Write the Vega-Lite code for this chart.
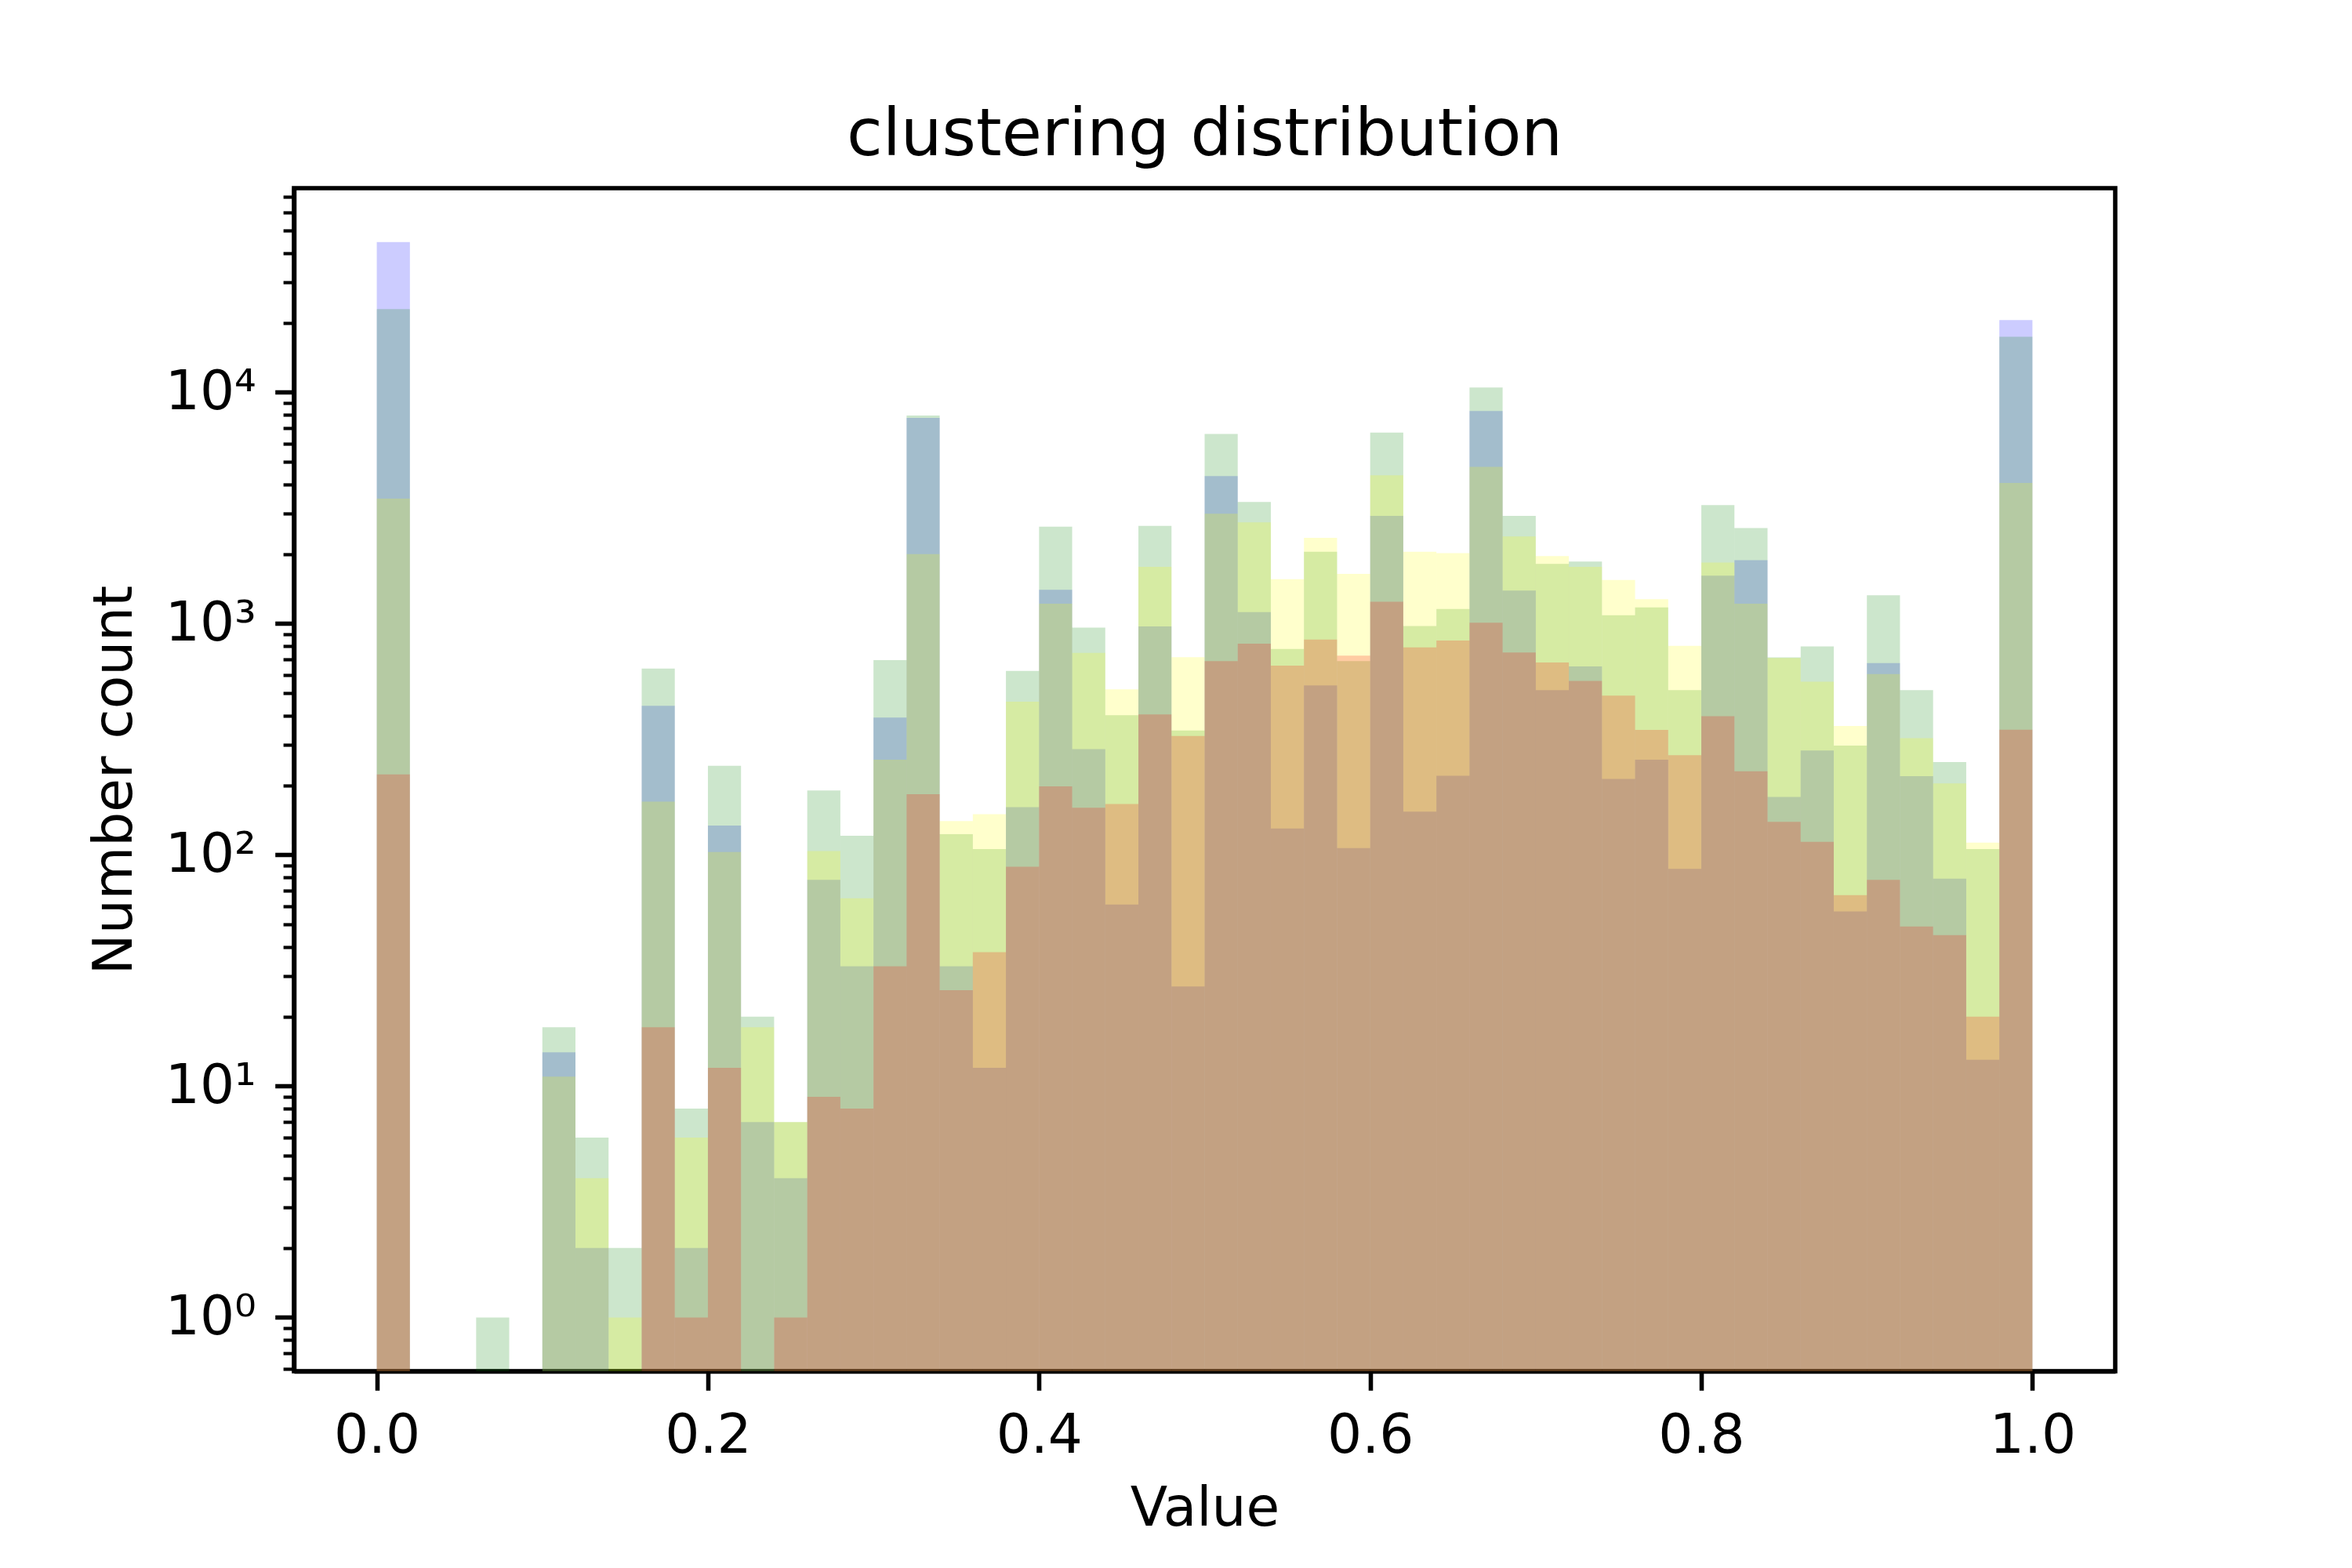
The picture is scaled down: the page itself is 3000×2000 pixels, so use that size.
{
  "$schema": "https://vega.github.io/schema/vega-lite/v6.json",
  "width": 2323,
  "height": 1509,
  "autosize": {"type": "none"},
  "padding": {"left": 375, "top": 240, "right": 302, "bottom": 251},
  "background": "white",
  "title": {
    "text": "clustering distribution",
    "font": "DejaVu Sans",
    "fontSize": 83.3,
    "fontWeight": "normal",
    "color": "black",
    "anchor": "middle",
    "frame": "group",
    "baseline": "alphabetic",
    "offset": -65
  },
  "config": {
    "view": {"stroke": "black", "strokeWidth": 5.56},
    "axis": {
      "labelFont": "DejaVu Sans",
      "titleFont": "DejaVu Sans",
      "labelFontSize": 69.4,
      "titleFontSize": 69.4,
      "titleFontWeight": "normal",
      "labelColor": "black",
      "titleColor": "black",
      "grid": false,
      "domain": true,
      "domainColor": "black",
      "domainWidth": 5.56,
      "tickColor": "black",
      "labelOverlap": false,
      "labelBound": false,
      "labelFlush": false,
      "zindex": 1
    }
  },
  "datasets": {
    "counts": [
      {"s": "B", "x0": 0.00, "x1": 0.02, "n": 44700},
      {"s": "B", "x0": 0.10, "x1": 0.12, "n": 14},
      {"s": "B", "x0": 0.12, "x1": 0.14, "n": 2},
      {"s": "B", "x0": 0.16, "x1": 0.18, "n": 441},
      {"s": "B", "x0": 0.18, "x1": 0.20, "n": 2},
      {"s": "B", "x0": 0.20, "x1": 0.22, "n": 134},
      {"s": "B", "x0": 0.22, "x1": 0.24, "n": 7},
      {"s": "B", "x0": 0.24, "x1": 0.26, "n": 4},
      {"s": "B", "x0": 0.26, "x1": 0.28, "n": 78},
      {"s": "B", "x0": 0.28, "x1": 0.30, "n": 33},
      {"s": "B", "x0": 0.30, "x1": 0.32, "n": 393},
      {"s": "B", "x0": 0.32, "x1": 0.34, "n": 7760},
      {"s": "B", "x0": 0.34, "x1": 0.36, "n": 33},
      {"s": "B", "x0": 0.36, "x1": 0.38, "n": 12},
      {"s": "B", "x0": 0.38, "x1": 0.40, "n": 161},
      {"s": "B", "x0": 0.40, "x1": 0.42, "n": 1400},
      {"s": "B", "x0": 0.42, "x1": 0.44, "n": 287},
      {"s": "B", "x0": 0.44, "x1": 0.46, "n": 61},
      {"s": "B", "x0": 0.46, "x1": 0.48, "n": 972},
      {"s": "B", "x0": 0.48, "x1": 0.50, "n": 27},
      {"s": "B", "x0": 0.50, "x1": 0.52, "n": 4350},
      {"s": "B", "x0": 0.52, "x1": 0.54, "n": 1122},
      {"s": "B", "x0": 0.54, "x1": 0.56, "n": 130},
      {"s": "B", "x0": 0.56, "x1": 0.58, "n": 541},
      {"s": "B", "x0": 0.58, "x1": 0.60, "n": 107},
      {"s": "B", "x0": 0.60, "x1": 0.62, "n": 2925},
      {"s": "B", "x0": 0.62, "x1": 0.64, "n": 154},
      {"s": "B", "x0": 0.64, "x1": 0.66, "n": 220},
      {"s": "B", "x0": 0.66, "x1": 0.68, "n": 8310},
      {"s": "B", "x0": 0.68, "x1": 0.70, "n": 1390},
      {"s": "B", "x0": 0.70, "x1": 0.72, "n": 516},
      {"s": "B", "x0": 0.72, "x1": 0.74, "n": 653},
      {"s": "B", "x0": 0.74, "x1": 0.76, "n": 213},
      {"s": "B", "x0": 0.76, "x1": 0.78, "n": 258},
      {"s": "B", "x0": 0.78, "x1": 0.80, "n": 87},
      {"s": "B", "x0": 0.80, "x1": 0.82, "n": 1614},
      {"s": "B", "x0": 0.82, "x1": 0.84, "n": 1880},
      {"s": "B", "x0": 0.84, "x1": 0.86, "n": 178},
      {"s": "B", "x0": 0.86, "x1": 0.88, "n": 283},
      {"s": "B", "x0": 0.88, "x1": 0.90, "n": 57},
      {"s": "B", "x0": 0.90, "x1": 0.92, "n": 675},
      {"s": "B", "x0": 0.92, "x1": 0.94, "n": 219},
      {"s": "B", "x0": 0.94, "x1": 0.96, "n": 79},
      {"s": "B", "x0": 0.96, "x1": 0.98, "n": 13},
      {"s": "B", "x0": 0.98, "x1": 1.00, "n": 20560},

      {"s": "G", "x0": 0.00, "x1": 0.02, "n": 22900},
      {"s": "G", "x0": 0.06, "x1": 0.08, "n": 1},
      {"s": "G", "x0": 0.10, "x1": 0.12, "n": 18},
      {"s": "G", "x0": 0.12, "x1": 0.14, "n": 6},
      {"s": "G", "x0": 0.14, "x1": 0.16, "n": 2},
      {"s": "G", "x0": 0.16, "x1": 0.18, "n": 640},
      {"s": "G", "x0": 0.18, "x1": 0.20, "n": 8},
      {"s": "G", "x0": 0.20, "x1": 0.22, "n": 243},
      {"s": "G", "x0": 0.22, "x1": 0.24, "n": 20},
      {"s": "G", "x0": 0.24, "x1": 0.26, "n": 7},
      {"s": "G", "x0": 0.26, "x1": 0.28, "n": 190},
      {"s": "G", "x0": 0.28, "x1": 0.30, "n": 121},
      {"s": "G", "x0": 0.30, "x1": 0.32, "n": 695},
      {"s": "G", "x0": 0.32, "x1": 0.34, "n": 7940},
      {"s": "G", "x0": 0.34, "x1": 0.36, "n": 123},
      {"s": "G", "x0": 0.36, "x1": 0.38, "n": 106},
      {"s": "G", "x0": 0.38, "x1": 0.40, "n": 625},
      {"s": "G", "x0": 0.40, "x1": 0.42, "n": 2625},
      {"s": "G", "x0": 0.42, "x1": 0.44, "n": 962},
      {"s": "G", "x0": 0.44, "x1": 0.46, "n": 402},
      {"s": "G", "x0": 0.46, "x1": 0.48, "n": 2650},
      {"s": "G", "x0": 0.48, "x1": 0.50, "n": 345},
      {"s": "G", "x0": 0.50, "x1": 0.52, "n": 6610},
      {"s": "G", "x0": 0.52, "x1": 0.54, "n": 3360},
      {"s": "G", "x0": 0.54, "x1": 0.56, "n": 778},
      {"s": "G", "x0": 0.56, "x1": 0.58, "n": 2048},
      {"s": "G", "x0": 0.58, "x1": 0.60, "n": 689},
      {"s": "G", "x0": 0.60, "x1": 0.62, "n": 6700},
      {"s": "G", "x0": 0.62, "x1": 0.64, "n": 977},
      {"s": "G", "x0": 0.64, "x1": 0.66, "n": 1157},
      {"s": "G", "x0": 0.66, "x1": 0.68, "n": 10500},
      {"s": "G", "x0": 0.68, "x1": 0.70, "n": 2927},
      {"s": "G", "x0": 0.70, "x1": 0.72, "n": 1814},
      {"s": "G", "x0": 0.72, "x1": 0.74, "n": 1855},
      {"s": "G", "x0": 0.74, "x1": 0.76, "n": 1088},
      {"s": "G", "x0": 0.76, "x1": 0.78, "n": 1175},
      {"s": "G", "x0": 0.78, "x1": 0.80, "n": 516},
      {"s": "G", "x0": 0.80, "x1": 0.82, "n": 3253},
      {"s": "G", "x0": 0.82, "x1": 0.84, "n": 2590},
      {"s": "G", "x0": 0.84, "x1": 0.86, "n": 715},
      {"s": "G", "x0": 0.86, "x1": 0.88, "n": 797},
      {"s": "G", "x0": 0.88, "x1": 0.90, "n": 297},
      {"s": "G", "x0": 0.90, "x1": 0.92, "n": 1327},
      {"s": "G", "x0": 0.92, "x1": 0.94, "n": 516},
      {"s": "G", "x0": 0.94, "x1": 0.96, "n": 252},
      {"s": "G", "x0": 0.96, "x1": 0.98, "n": 106},
      {"s": "G", "x0": 0.98, "x1": 1.00, "n": 17400},

      {"s": "Y", "x0": 0.00, "x1": 0.02, "n": 3470},
      {"s": "Y", "x0": 0.10, "x1": 0.12, "n": 11},
      {"s": "Y", "x0": 0.12, "x1": 0.14, "n": 4},
      {"s": "Y", "x0": 0.14, "x1": 0.16, "n": 1},
      {"s": "Y", "x0": 0.16, "x1": 0.18, "n": 170},
      {"s": "Y", "x0": 0.18, "x1": 0.20, "n": 6},
      {"s": "Y", "x0": 0.20, "x1": 0.22, "n": 103},
      {"s": "Y", "x0": 0.22, "x1": 0.24, "n": 18},
      {"s": "Y", "x0": 0.24, "x1": 0.26, "n": 7},
      {"s": "Y", "x0": 0.26, "x1": 0.28, "n": 104},
      {"s": "Y", "x0": 0.28, "x1": 0.30, "n": 65},
      {"s": "Y", "x0": 0.30, "x1": 0.32, "n": 258},
      {"s": "Y", "x0": 0.32, "x1": 0.34, "n": 2000},
      {"s": "Y", "x0": 0.34, "x1": 0.36, "n": 140},
      {"s": "Y", "x0": 0.36, "x1": 0.38, "n": 150},
      {"s": "Y", "x0": 0.38, "x1": 0.40, "n": 460},
      {"s": "Y", "x0": 0.40, "x1": 0.42, "n": 1220},
      {"s": "Y", "x0": 0.42, "x1": 0.44, "n": 748},
      {"s": "Y", "x0": 0.44, "x1": 0.46, "n": 520},
      {"s": "Y", "x0": 0.46, "x1": 0.48, "n": 1760},
      {"s": "Y", "x0": 0.48, "x1": 0.50, "n": 716},
      {"s": "Y", "x0": 0.50, "x1": 0.52, "n": 2990},
      {"s": "Y", "x0": 0.52, "x1": 0.54, "n": 2740},
      {"s": "Y", "x0": 0.54, "x1": 0.56, "n": 1557},
      {"s": "Y", "x0": 0.56, "x1": 0.58, "n": 2350},
      {"s": "Y", "x0": 0.58, "x1": 0.60, "n": 1642},
      {"s": "Y", "x0": 0.60, "x1": 0.62, "n": 4380},
      {"s": "Y", "x0": 0.62, "x1": 0.64, "n": 2047},
      {"s": "Y", "x0": 0.64, "x1": 0.66, "n": 2017},
      {"s": "Y", "x0": 0.66, "x1": 0.68, "n": 4760},
      {"s": "Y", "x0": 0.68, "x1": 0.70, "n": 2384},
      {"s": "Y", "x0": 0.70, "x1": 0.72, "n": 1960},
      {"s": "Y", "x0": 0.72, "x1": 0.74, "n": 1760},
      {"s": "Y", "x0": 0.74, "x1": 0.76, "n": 1545},
      {"s": "Y", "x0": 0.76, "x1": 0.78, "n": 1277},
      {"s": "Y", "x0": 0.78, "x1": 0.80, "n": 802},
      {"s": "Y", "x0": 0.80, "x1": 0.82, "n": 1837},
      {"s": "Y", "x0": 0.82, "x1": 0.84, "n": 1220},
      {"s": "Y", "x0": 0.84, "x1": 0.86, "n": 710},
      {"s": "Y", "x0": 0.86, "x1": 0.88, "n": 561},
      {"s": "Y", "x0": 0.88, "x1": 0.90, "n": 361},
      {"s": "Y", "x0": 0.90, "x1": 0.92, "n": 606},
      {"s": "Y", "x0": 0.92, "x1": 0.94, "n": 320},
      {"s": "Y", "x0": 0.94, "x1": 0.96, "n": 204},
      {"s": "Y", "x0": 0.96, "x1": 0.98, "n": 113},
      {"s": "Y", "x0": 0.98, "x1": 1.00, "n": 4060},

      {"s": "R", "x0": 0.00, "x1": 0.02, "n": 223},
      {"s": "R", "x0": 0.16, "x1": 0.18, "n": 18},
      {"s": "R", "x0": 0.18, "x1": 0.20, "n": 1},
      {"s": "R", "x0": 0.20, "x1": 0.22, "n": 12},
      {"s": "R", "x0": 0.24, "x1": 0.26, "n": 1},
      {"s": "R", "x0": 0.26, "x1": 0.28, "n": 9},
      {"s": "R", "x0": 0.28, "x1": 0.30, "n": 8},
      {"s": "R", "x0": 0.30, "x1": 0.32, "n": 33},
      {"s": "R", "x0": 0.32, "x1": 0.34, "n": 183},
      {"s": "R", "x0": 0.34, "x1": 0.36, "n": 26},
      {"s": "R", "x0": 0.36, "x1": 0.38, "n": 38},
      {"s": "R", "x0": 0.38, "x1": 0.40, "n": 89},
      {"s": "R", "x0": 0.40, "x1": 0.42, "n": 198},
      {"s": "R", "x0": 0.42, "x1": 0.44, "n": 160},
      {"s": "R", "x0": 0.44, "x1": 0.46, "n": 166},
      {"s": "R", "x0": 0.46, "x1": 0.48, "n": 405},
      {"s": "R", "x0": 0.48, "x1": 0.50, "n": 327},
      {"s": "R", "x0": 0.50, "x1": 0.52, "n": 689},
      {"s": "R", "x0": 0.52, "x1": 0.54, "n": 820},
      {"s": "R", "x0": 0.54, "x1": 0.56, "n": 658},
      {"s": "R", "x0": 0.56, "x1": 0.58, "n": 853},
      {"s": "R", "x0": 0.58, "x1": 0.60, "n": 727},
      {"s": "R", "x0": 0.60, "x1": 0.62, "n": 1245},
      {"s": "R", "x0": 0.62, "x1": 0.64, "n": 790},
      {"s": "R", "x0": 0.64, "x1": 0.66, "n": 846},
      {"s": "R", "x0": 0.66, "x1": 0.68, "n": 1010},
      {"s": "R", "x0": 0.68, "x1": 0.70, "n": 750},
      {"s": "R", "x0": 0.70, "x1": 0.72, "n": 680},
      {"s": "R", "x0": 0.72, "x1": 0.74, "n": 566},
      {"s": "R", "x0": 0.74, "x1": 0.76, "n": 489},
      {"s": "R", "x0": 0.76, "x1": 0.78, "n": 347},
      {"s": "R", "x0": 0.78, "x1": 0.80, "n": 270},
      {"s": "R", "x0": 0.80, "x1": 0.82, "n": 398},
      {"s": "R", "x0": 0.82, "x1": 0.84, "n": 230},
      {"s": "R", "x0": 0.84, "x1": 0.86, "n": 139},
      {"s": "R", "x0": 0.86, "x1": 0.88, "n": 114},
      {"s": "R", "x0": 0.88, "x1": 0.90, "n": 67},
      {"s": "R", "x0": 0.90, "x1": 0.92, "n": 78},
      {"s": "R", "x0": 0.92, "x1": 0.94, "n": 49},
      {"s": "R", "x0": 0.94, "x1": 0.96, "n": 45},
      {"s": "R", "x0": 0.96, "x1": 0.98, "n": 20},
      {"s": "R", "x0": 0.98, "x1": 1.00, "n": 348}
    ]
  },
  "data": {"name": "counts"},
  "encoding": {
    "x": {
      "field": "x0",
      "type": "quantitative",
      "scale": {"domain": [-0.05, 1.05], "nice": false, "zero": false},
      "axis": {
        "title": "Value",
        "values": [0, 0.2, 0.4, 0.6, 0.8, 1.0],
        "format": ".1f",
        "tickSize": 24.3,
        "tickWidth": 5.56,
        "labelPadding": 24.3,
        "titlePadding": 24
      }
    },
    "x2": {"field": "x1"},
    "y": {
      "field": "n",
      "type": "quantitative",
      "scale": {"type": "log", "domain": [0.5855, 76400], "nice": false},
      "axis": {
        "title": "Number count",
        "values": [0.6, 0.7, 0.8, 0.9, 1, 2, 3, 4, 5, 6, 7, 8, 9, 10, 20, 30, 40, 50, 60, 70, 80, 90, 100, 200, 300, 400, 500, 600, 700, 800, 900, 1000, 2000, 3000, 4000, 5000, 6000, 7000, 8000, 9000, 10000, 20000, 30000, 40000, 50000, 60000, 70000],
        "labelExpr": "datum.value == 1 ? '10⁰' : datum.value == 10 ? '10¹' : datum.value == 100 ? '10²' : datum.value == 1000 ? '10³' : datum.value == 10000 ? '10⁴' : ''",
        "tickSize": {"condition": {"test": "indexof([1, 10, 100, 1000, 10000], datum.value) >= 0", "value": 24.3}, "value": 13.9},
        "tickWidth": {"condition": {"test": "indexof([1, 10, 100, 1000, 10000], datum.value) >= 0", "value": 5.56}, "value": 4.17},
        "labelPadding": 24.3,
        "titlePadding": 28
      }
    },
    "y2": {"datum": 0.5855}
  },
  "layer": [
    {
      "transform": [{"filter": "datum.s === 'B'"}],
      "mark": {"type": "bar", "color": "#0000ff", "opacity": 0.2, "strokeWidth": 0}
    },
    {
      "transform": [{"filter": "datum.s === 'G'"}],
      "mark": {"type": "bar", "color": "#008000", "opacity": 0.2, "strokeWidth": 0}
    },
    {
      "transform": [{"filter": "datum.s === 'Y'"}],
      "mark": {"type": "bar", "color": "#ffff00", "opacity": 0.2, "strokeWidth": 0}
    },
    {
      "transform": [{"filter": "datum.s === 'R'"}],
      "mark": {"type": "bar", "color": "#ff0000", "opacity": 0.2, "strokeWidth": 0}
    }
  ]
}
